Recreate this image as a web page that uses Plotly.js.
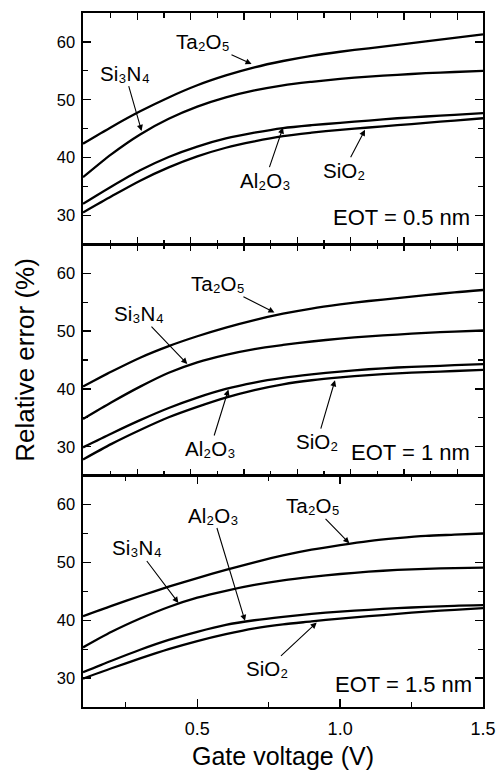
<!DOCTYPE html>
<html>
<head>
<meta charset="utf-8">
<script src="https://cdn.plot.ly/plotly-3.0.1.min.js"></script>
<style>html,body{margin:0;padding:0;background:#fff;}#chart{width:500px;height:770px;}</style>
</head>
<body>
<div id="chart"></div>
<script>
// Gate voltage (V)
const gateVoltage = [0.1, 0.2, 0.3, 0.4, 0.5, 0.6, 0.7, 0.8, 0.9, 1.0, 1.1, 1.2, 1.3, 1.4, 1.5];

// Relative error (%) — EOT = 0.5 nm
const ta2o5_05 = [42.4, 45.3, 48.0, 50.4, 52.5, 54.2, 55.6, 56.7, 57.6, 58.3, 58.9, 59.5, 60.1, 60.7, 61.3];
const si3n4_05 = [36.6, 40.6, 44.0, 46.7, 48.8, 50.4, 51.6, 52.5, 53.1, 53.6, 54.0, 54.3, 54.6, 54.8, 55.0];
const al2o3_05 = [32.0, 35.0, 37.8, 40.1, 41.9, 43.3, 44.3, 45.1, 45.6, 46.0, 46.4, 46.8, 47.1, 47.4, 47.7];
const sio2_05  = [30.5, 33.3, 36.0, 38.3, 40.2, 41.7, 42.8, 43.7, 44.3, 44.8, 45.2, 45.6, 46.0, 46.4, 46.8];

// EOT = 1 nm
const ta2o5_10 = [40.4, 43.0, 45.4, 47.4, 49.1, 50.6, 51.9, 53.0, 53.9, 54.6, 55.2, 55.7, 56.2, 56.7, 57.1];
const si3n4_10 = [34.8, 37.7, 40.4, 42.8, 44.6, 45.9, 46.9, 47.6, 48.2, 48.7, 49.1, 49.4, 49.7, 49.9, 50.1];
const al2o3_10 = [29.9, 32.3, 34.6, 36.7, 38.5, 40.0, 41.1, 41.9, 42.5, 43.0, 43.4, 43.7, 43.9, 44.1, 44.3];
const sio2_10  = [27.8, 30.5, 32.9, 35.1, 36.9, 38.5, 39.8, 40.8, 41.5, 42.0, 42.4, 42.7, 42.9, 43.1, 43.3];

// EOT = 1.5 nm
const ta2o5_15 = [40.7, 42.5, 44.2, 45.8, 47.3, 48.7, 50.0, 51.2, 52.2, 53.0, 53.7, 54.2, 54.6, 54.8, 55.0];
const si3n4_15 = [35.3, 38.0, 40.3, 42.3, 43.9, 45.1, 46.1, 46.9, 47.5, 48.0, 48.4, 48.7, 48.9, 49.0, 49.1];
const al2o3_15 = [31.0, 33.0, 34.9, 36.6, 38.0, 39.2, 40.0, 40.6, 41.1, 41.5, 41.8, 42.1, 42.3, 42.5, 42.6];
const sio2_15  = [29.9, 31.7, 33.4, 35.0, 36.4, 37.6, 38.6, 39.3, 39.8, 40.3, 40.7, 41.1, 41.5, 41.8, 42.1];

const panels = [
  {ax: '3', eot: 'EOT = 0.5 nm', series: [ta2o5_05, si3n4_05, al2o3_05, sio2_05]},
  {ax: '2', eot: 'EOT = 1 nm',   series: [ta2o5_10, si3n4_10, al2o3_10, sio2_10]},
  {ax: '',  eot: 'EOT = 1.5 nm', series: [ta2o5_15, si3n4_15, al2o3_15, sio2_15]}
];
const names = ['Ta₂O₅', 'Si₃N₄', 'Al₂O₃', 'SiO₂'];

const traces = [];
panels.forEach(p => {
  p.series.forEach((s, i) => {
    traces.push({
      x: gateVoltage, y: s, type: 'scatter', mode: 'lines', name: names[i],
      line: {color: '#000', width: 2.3, shape: 'spline', smoothing: 0.8},
      xaxis: 'x' + p.ax, yaxis: 'y' + p.ax, hoverinfo: 'skip'
    });
  });
});

const FONT = 'Liberation Sans, Arial, Helvetica, sans-serif';

function yAx(domain, extra) {
  return Object.assign({
    domain: domain, range: [25, 65], tick0: 0, dtick: 10,
    ticks: 'inside', ticklen: 8, tickwidth: 1.4, tickcolor: '#000',
    minor: {dtick: 5, tick0: 0, ticks: 'inside', ticklen: 5, tickwidth: 1.2, tickcolor: '#000', showgrid: false},
    showline: true, linecolor: '#000', linewidth: 1.6, mirror: 'ticks',
    showgrid: false, zeroline: false, ticklabelstandoff: 3,
    tickfont: {family: FONT, size: 16.5, color: '#000'}
  }, extra || {});
}
function xTop(anchor) {
  return {
    anchor: anchor, domain: [0, 1], range: [0.1, 1.5],
    tick0: 0.29, dtick: 0.18668, showticklabels: false,
    ticks: 'inside', ticklen: 7, tickwidth: 1.4, tickcolor: '#000',
    minor: {tick0: 0.29, dtick: 0.09334, ticks: 'inside', ticklen: 4.5, tickwidth: 1.2, tickcolor: '#000', showgrid: false},
    showline: true, linecolor: '#000', linewidth: 1.6, mirror: 'ticks',
    showgrid: false, zeroline: false
  };
}

const annFont = {family: FONT, size: 20.5, color: '#000'};
const eotFont = {family: FONT, size: 22, color: '#000'};
function lbl(axs, text, tx, ty, hx, hy) {
  return {
    xref: 'x' + axs, yref: 'y' + axs, axref: 'x' + axs, ayref: 'y' + axs,
    x: hx, y: hy, ax: tx, ay: ty, text: text, showarrow: true,
    arrowhead: 2, arrowsize: 1.1, arrowwidth: 1.1, arrowcolor: '#000',
    font: annFont
  };
}
function eot(axs, text, tx, ty) {
  return {xref: 'x' + axs, yref: 'y' + axs, x: tx, y: ty, text: text, showarrow: false, font: eotFont};
}

const annotations = [
  // top panel (EOT 0.5 nm)
  lbl('3', names[0], 0.52, 60.0, 0.69, 56.2),
  lbl('3', names[1], 0.247, 54.6, 0.305, 44.6),
  lbl('3', names[2], 0.737, 36.1, 0.80, 45.2),
  lbl('3', names[3], 1.013, 37.8, 1.087, 44.8),
  eot('3', panels[0].eot, 1.213, 29.7),
  // middle panel (EOT 1 nm)
  lbl('2', names[0], 0.573, 58.2, 0.77, 53.2),
  lbl('2', names[1], 0.296, 53.0, 0.465, 44.3),
  lbl('2', names[2], 0.545, 29.7, 0.609, 39.9),
  lbl('2', names[3], 0.919, 30.9, 0.982, 41.5),
  eot('2', panels[1].eot, 1.245, 29.0),
  // bottom panel (EOT 1.5 nm)
  lbl('', names[0], 0.905, 59.8, 1.032, 53.3),
  lbl('', names[2], 0.555, 58.2, 0.667, 39.9),
  lbl('', names[1], 0.289, 52.5, 0.434, 43.0),
  lbl('', names[3], 0.744, 31.6, 0.918, 39.6),
  eot('', panels[2].eot, 1.222, 28.9)
];

const layout = {
  width: 500, height: 770,
  margin: {l: 83, r: 17, t: 13, b: 63},
  paper_bgcolor: '#fff', plot_bgcolor: '#fff',
  font: {family: FONT, color: '#000'},
  showlegend: false,
  xaxis: {
    anchor: 'y', domain: [0, 1], range: [0.1, 1.5],
    tick0: 0, dtick: 0.5, tickformat: '.1f',
    ticks: 'inside', ticklen: 8, tickwidth: 1.4, tickcolor: '#000',
    minor: {tick0: 0, dtick: 0.25, ticks: 'inside', ticklen: 5, tickwidth: 1.2, tickcolor: '#000', showgrid: false},
    showline: true, linecolor: '#000', linewidth: 1.6, mirror: 'ticks',
    showgrid: false, zeroline: false, ticklabelstandoff: 5,
    tickfont: {family: FONT, size: 18, color: '#000'},
    title: {text: 'Gate voltage (V)', font: {family: FONT, size: 25, color: '#000'}, standoff: 12}
  },
  xaxis2: xTop('y2'),
  xaxis3: xTop('y3'),
  yaxis: yAx([0, 0.3333]),
  yaxis2: yAx([0.3333, 0.6667], {title: {text: 'Relative error (%)', font: {family: FONT, size: 26, color: '#000'}, standoff: 14}}),
  yaxis3: yAx([0.6667, 1]),
  annotations: annotations
};

Plotly.newPlot('chart', traces, layout, {staticPlot: true, displayModeBar: false});
</script>
</body>
</html>
